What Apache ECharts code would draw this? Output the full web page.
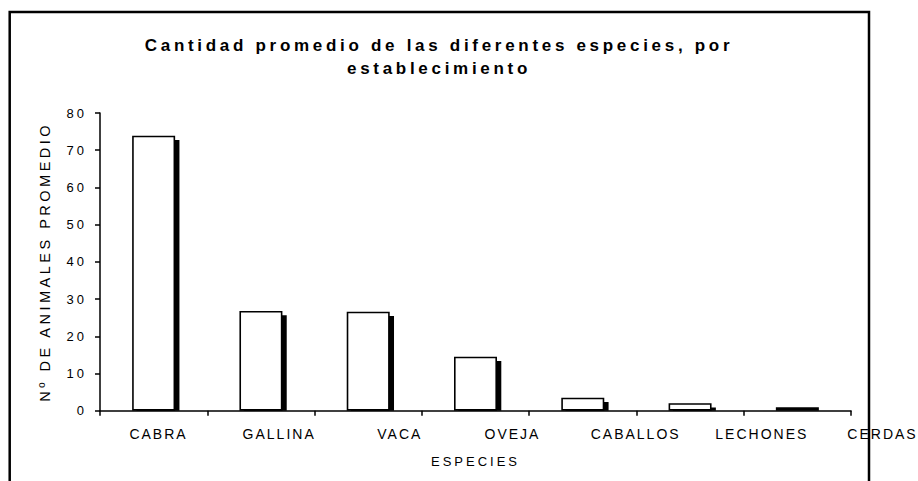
<!DOCTYPE html>
<html>
<head>
<meta charset="utf-8">
<script src="https://cdn.jsdelivr.net/npm/echarts@6/dist/echarts.min.js"></script>
<style>
html,body{margin:0;padding:0;background:#fff;}
#chart{width:918px;height:481px;}
#chart svg text{letter-spacing:3px;}
#chart svg text[style*="14px"]{letter-spacing:2px;}
#chart svg text[style*="14.5px"]{letter-spacing:3.5px;}
#chart svg text[style*="bold"]{letter-spacing:3.7px;}
</style>
</head>
<body>
<div id="chart"></div>
<script>
// ---- data ----
const categories = ['CABRA', 'GALLINA', 'VACA', 'OVEJA', 'CABALLOS', 'LECHONES', 'CERDAS'];
const values = [73.9, 26.8, 26.6, 14.5, 3.5, 2.0, 0.9];
const yMin = 0, yMax = 80, yStep = 10;
const titleLines = ['Cantidad promedio de las diferentes especies, por', 'establecimiento'];
const xName = 'ESPECIES';
const yName = 'Nº DE ANIMALES PROMEDIO';
const shadowDrop = 1.15; // drop-shadow depth, in value units

const FONT = '"Liberation Sans", Arial, sans-serif';
const shadowValues = values.map(v => Math.max(v - shadowDrop, 0));
const labelStyle = {fontFamily: FONT, fontSize: 14, color: '#000'};

const chart = echarts.init(document.getElementById('chart'), null, {renderer: 'svg'});
chart.setOption({
  backgroundColor: '#fff',
  animation: false,
  title: {
    text: titleLines.join('\n'),
    left: 439,
    textAlign: 'center',
    top: 34,
    padding: 0,
    textStyle: {fontFamily: FONT, fontSize: 17, fontWeight: 'bold', color: '#000', lineHeight: 23}
  },
  grid: [
    {left: 100, right: 67, top: 113, bottom: 70.3, containLabel: false, outerBoundsMode: 'none'},
    {left: 104.3, right: 62.7, top: 113, bottom: 70.3, containLabel: false, outerBoundsMode: 'none'},
    {left: 158.5, right: 35.5, top: 113, bottom: 70.3, containLabel: false, outerBoundsMode: 'none'}
  ],
  xAxis: [
    {
      type: 'category', gridIndex: 0, data: categories,
      axisLine: {lineStyle: {color: '#000', width: 1.5}},
      axisTick: {show: true, length: 5, alignWithLabel: false, lineStyle: {color: '#000', width: 1.5}},
      axisLabel: {show: false},
      name: xName, nameLocation: 'middle', nameGap: 44,
      nameTextStyle: {fontFamily: FONT, fontSize: 13, color: '#000'}
    },
    {type: 'category', gridIndex: 1, data: categories, show: false},
    {
      type: 'category', gridIndex: 2, data: categories, boundaryGap: false,
      axisLine: {show: false}, axisTick: {show: false},
      axisLabel: Object.assign({
        interval: 0, margin: 16,
        formatter: (v, i) => (i === 3 ? '{w|' + v + '}' : i === 4 ? '{m|' + v + '}' : v),
        rich: {
          w: Object.assign({padding: [0, 16, 0, 0]}, labelStyle),
          m: Object.assign({padding: [0, 11, 0, 0]}, labelStyle)
        }
      }, labelStyle)
    }
  ],
  yAxis: [
    {
      type: 'value', gridIndex: 0, min: yMin, max: yMax, interval: yStep,
      splitLine: {show: false},
      axisLine: {show: true, lineStyle: {color: '#000', width: 1.5}},
      axisTick: {show: true, length: 5, lineStyle: {color: '#000', width: 1.5}},
      axisLabel: {margin: 13, fontFamily: FONT, fontSize: 13, color: '#000'},
      name: yName, nameLocation: 'middle', nameGap: 48,
      nameTextStyle: {fontFamily: FONT, fontSize: 14.5, color: '#000'}
    },
    {type: 'value', gridIndex: 1, min: yMin, max: yMax, interval: yStep, show: false, splitLine: {show: false}},
    {type: 'value', gridIndex: 2, min: yMin, max: yMax, interval: yStep, show: false, splitLine: {show: false}}
  ],
  series: [
    {
      name: 'sombra', type: 'bar', xAxisIndex: 1, yAxisIndex: 1, data: shadowValues,
      barWidth: 43, z: 2, silent: true,
      itemStyle: {color: '#000'}
    },
    {
      name: 'promedio', type: 'bar', xAxisIndex: 0, yAxisIndex: 0, data: values,
      barWidth: 43, z: 3,
      itemStyle: {color: '#fff', borderColor: '#000', borderWidth: 1.6}
    }
  ],
  graphic: [{
    type: 'rect', z: 100, silent: true,
    shape: {x: 9.7, y: 12, width: 859.3, height: 520},
    style: {fill: 'none', stroke: '#000', lineWidth: 2.5}
  }]
});
</script>
</body>
</html>
